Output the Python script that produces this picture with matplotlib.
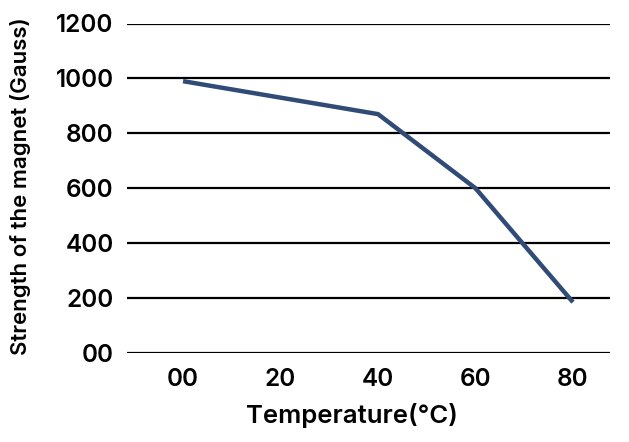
import matplotlib
matplotlib.use("Agg")
import matplotlib.pyplot as plt

temps = [0, 20, 40, 60, 80]
strength = [990, 930, 870, 600, 185]
x_labels = ["00", "20", "40", "60", "80"]
y_ticks = [0, 200, 400, 600, 800, 1000, 1200]
y_labels = ["00", "200", "400", "600", "800", "1000", "1200"]

plt.rcParams['font.family'] = ['Inter', 'DejaVu Sans']

fig = plt.figure(figsize=(6.29, 4.42), dpi=100)
ax = fig.add_axes([127/629, 1 - 353/442, (610-127)/629, (353-23.5)/442])

for yv in y_ticks:
    ax.axhline(yv, color='black', lw=1.6, zorder=1)

ax.plot(temps, strength, color='#2F4B76', lw=3.2, zorder=3, solid_capstyle='butt', solid_joinstyle='miter')

ax.set_xlim(-11.5, 87.6)
ax.set_ylim(0, 1200)
ax.set_xticks(temps)
ax.set_xticklabels(x_labels)
ax.set_yticks(y_ticks)
ax.set_yticklabels(y_labels)
ax.tick_params(axis='y', length=0, labelsize=17.5, pad=9.5)
ax.tick_params(axis='x', length=0, labelsize=17.5, pad=11)
for lab in ax.get_xticklabels() + ax.get_yticklabels():
    lab.set_fontweight('semibold')
for s in ax.spines.values():
    s.set_visible(False)
ax.set_xlabel("Temperature(°C)", fontsize=18.5, fontweight='semibold')
ax.set_ylabel("Strength of the magnet (Gauss)", fontsize=16, fontweight='semibold')
ax.xaxis.set_label_coords((352 - 127) / 483, -0.152)
ax.yaxis.set_label_coords((31 - 127) / 483, 0.505)

fig.savefig("out.png", dpi=100, facecolor='white')
